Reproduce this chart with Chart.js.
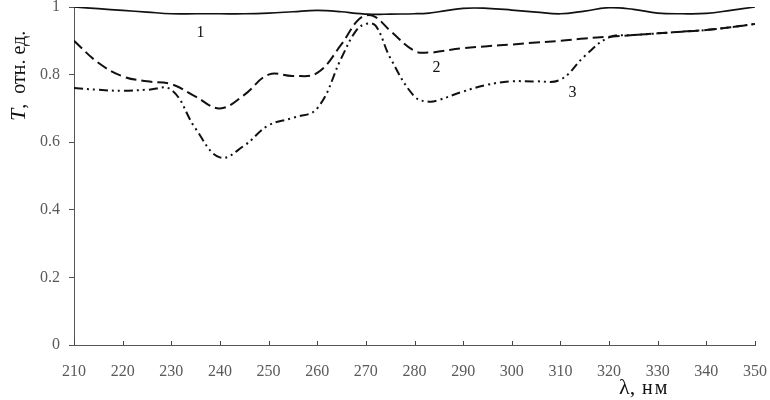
<!DOCTYPE html>
<html lang="ru">
<head>
<meta charset="UTF-8">
<title>Спектры пропускания</title>
<script src="https://cdn.jsdelivr.net/npm/chart.js"></script>
<style>
    body { margin: 0; background: #fff; }
    .chart-box { width: 770px; height: 400px; position: relative; }
</style>
</head>
<body>
<div class="chart-box">
    <canvas id="spectra"></canvas>
</div>
<script>
// длина волны, нм
const wavelengths = [210, 215, 220, 225, 230, 235, 240, 245, 250, 255, 260, 265, 268, 270, 272, 275,
                     280, 283, 285, 290, 295, 300, 305, 310, 315, 320, 325, 330, 335, 340, 345, 350];
// пропускание T, отн. ед.
const curve1 = [1.0, 0.995, 0.99, 0.985, 0.98, 0.98, 0.98, 0.98, 0.982, 0.986, 0.99, 0.986, 0.981, 0.979, 0.978, 0.979,
                0.98, 0.982, 0.986, 0.996, 0.996, 0.991, 0.985, 0.98, 0.988, 0.998, 0.993, 0.982, 0.98, 0.981, 0.99, 1.0];
const curve2 = [0.90, 0.835, 0.795, 0.78, 0.772, 0.735, 0.70, 0.74, 0.80, 0.796, 0.805, 0.89, 0.955, 0.975, 0.97, 0.93,
                0.87, 0.865, 0.868, 0.878, 0.884, 0.889, 0.895, 0.90, 0.907, 0.912, 0.917, 0.922, 0.927, 0.932, 0.94, 0.95];
const curve3 = [0.76, 0.755, 0.752, 0.755, 0.755, 0.64, 0.555, 0.59, 0.65, 0.672, 0.70, 0.85, 0.93, 0.95, 0.945, 0.85,
                0.735, 0.72, 0.725, 0.75, 0.77, 0.78, 0.78, 0.785, 0.855, 0.91, 0.917, 0.922, 0.927, 0.932, 0.94, 0.95];
const xTicks = [210, 220, 230, 240, 250, 260, 270, 280, 290, 300, 310, 320, 330, 340, 350];
const yTicks = [0, 0.2, 0.4, 0.6, 0.8, 1];
// номера кривых и их положение
const curveNames = ['1', '2', '3'];
const nameX = [236, 284.5, 312.5];
const nameY = [0.925, 0.82, 0.745];

const toPoints = ys => wavelengths.map((x, i) => ({ x: x, y: ys[i] }));

const serif = '"Liberation Serif", "Times New Roman", serif';

const decorations = {
    id: 'decorations',
    afterDraw(chart) {
        const ctx = chart.ctx;
        const xs = chart.scales.x, ys = chart.scales.y;
        const area = chart.chartArea;
        ctx.save();
        // внутренние засечки оси X
        ctx.strokeStyle = '#444';
        ctx.lineWidth = 1;
        xTicks.forEach(v => {
            const px = Math.round(xs.getPixelForValue(v)) + 0.5;
            ctx.beginPath();
            ctx.moveTo(px, area.bottom);
            ctx.lineTo(px, area.bottom - 4);
            ctx.stroke();
        });
        // номера кривых
        ctx.fillStyle = '#111';
        ctx.font = '16px ' + serif;
        ctx.textAlign = 'center';
        ctx.textBaseline = 'middle';
        curveNames.forEach((n, i) => {
            ctx.fillText(n, xs.getPixelForValue(nameX[i]), ys.getPixelForValue(nameY[i]));
        });
        // подпись оси Y
        ctx.save();
        ctx.translate(25, 121);
        ctx.rotate(-Math.PI / 2);
        ctx.textAlign = 'left';
        ctx.textBaseline = 'alphabetic';
        ctx.font = 'italic 22px ' + serif;
        ctx.fillText('T', 0, 0);
        let w = ctx.measureText('T').width;
        ctx.font = '20px ' + serif;
        ctx.fillText(',  отн. ед.', w, 0);
        ctx.restore();
        // подпись оси X
        ctx.textAlign = 'left';
        ctx.textBaseline = 'alphabetic';
        ctx.font = '22px ' + serif;
        ctx.fillText('λ,', 619, 394);
        ctx.font = '20px ' + serif;
        ctx.letterSpacing = '2px';
        ctx.fillText('нм', 642, 394);
        ctx.restore();
    }
};

const ctx = document.getElementById('spectra').getContext('2d');
new Chart(ctx, {
    type: 'scatter',
    data: {
        datasets: [
            { label: '1', data: toPoints(curve1), borderColor: '#111', borderWidth: 1.7 },
            { label: '2', data: toPoints(curve2), borderColor: '#111', borderWidth: 2, borderDash: [11, 5] },
            { label: '3', data: toPoints(curve3), borderColor: '#111', borderWidth: 2, borderDash: [9, 4, 2, 4, 2, 4] }
        ]
    },
    options: {
        responsive: true,
        maintainAspectRatio: false,
        animation: false,
        showLine: true,
        layout: { padding: { top: 7, right: 15, left: 0, bottom: 0 } },
        elements: {
            point: { radius: 0, hoverRadius: 0 },
            line: { tension: 0.4, fill: false }
        },
        plugins: {
            legend: { display: false },
            tooltip: { enabled: false }
        },
        scales: {
            x: {
                type: 'linear',
                min: 210,
                max: 350,
                afterBuildTicks: s => { s.ticks = xTicks.map(v => ({ value: v })); },
                afterFit: s => { s.height = 55; s.paddingLeft = 0; s.paddingRight = 0; },
                grid: { display: false },
                border: { display: true, color: '#555', width: 1 },
                ticks: {
                    color: '#5a5a5a',
                    padding: 9,
                    maxRotation: 0,
                    autoSkip: false,
                    font: { family: serif, size: 16 }
                }
            },
            y: {
                min: 0,
                max: 1,
                afterBuildTicks: s => { s.ticks = yTicks.map(v => ({ value: v })); },
                afterFit: s => { s.width = 74; s.paddingTop = 0; s.paddingBottom = 0; },
                grid: { drawOnChartArea: false, drawTicks: true, tickLength: 5, color: '#555' },
                border: { display: true, color: '#555', width: 1 },
                ticks: {
                    color: '#5a5a5a',
                    padding: 9,
                    font: { family: serif, size: 16 },
                    callback: v => String(v)
                }
            }
        }
    },
    plugins: [decorations]
});
</script>
</body>
</html>
